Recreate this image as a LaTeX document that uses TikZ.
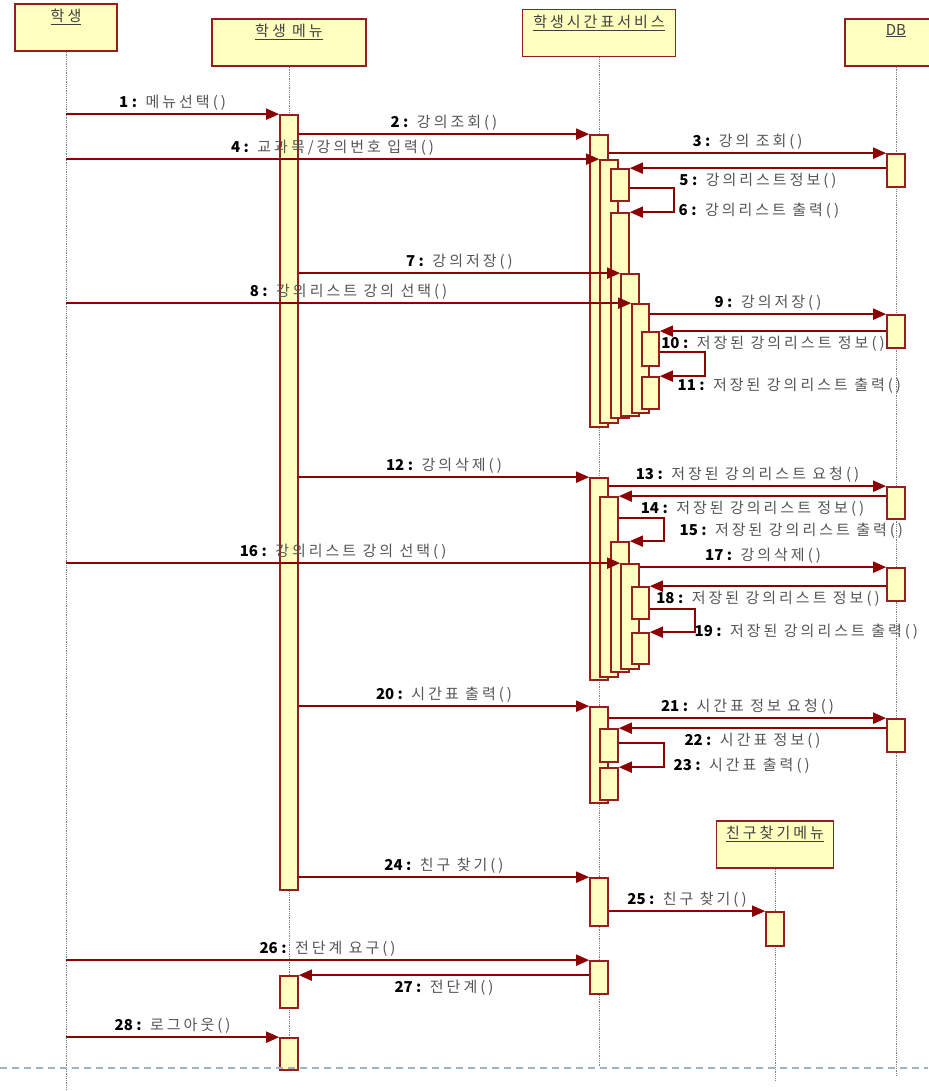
\documentclass[tikz,border=0pt]{standalone}
\usepackage{fontspec}
\setmainfont{Noto Sans CJK KR}[LetterSpace=20]
\newfontfamily\numfont{Noto Sans CJK KR}
\usetikzlibrary{arrows.meta,positioning,fit}

\definecolor{umlline}{RGB}{139,0,0}
\definecolor{umlbox}{RGB}{150,30,30}
\definecolor{umlfill}{RGB}{255,255,192}
\definecolor{txtgray}{RGB}{85,85,85}
\definecolor{pagedash}{RGB}{160,178,200}

\tikzset{
  head/.style={draw=umlbox, fill=umlfill, line width=1.8pt, minimum height=47pt},
  headtxt/.style={text=black!75, inner sep=1pt, font=\fontsize{15}{17}\selectfont},
  act/.style={draw=umlbox, fill=umlfill, line width=1.7pt, inner sep=0pt},
  life/.style={gray, densely dotted, line width=0.8pt},
  msg/.style={umlline, line width=1.8pt, -{Triangle[length=13pt,width=11pt]}},
  lbl/.style={font=\fontsize{15}{17}\selectfont, text=txtgray, inner sep=2.5pt},
  lblup/.style={lbl, above},
  lbldown/.style={lbl, below, inner sep=4pt},
  lblside/.style={lbl, anchor=west}
}
\newcommand{\msgtxt}[2]{\textcolor{black}{\numfont\bfseries #1 :} #2}

\begin{document}
\begin{tikzpicture}[x=1pt, y=-1pt]
  \useasboundingbox (0,0) rectangle (928,1091);

  % Objects
  \node[head, minimum width=102pt] (stu) at (66,27.5) {};
  \node[headtxt, below=5pt of stu.north] (stut) {\underline{학생}};
  \node[head, minimum width=154pt] (menu) at (289,42.5) {};
  \node[headtxt, below=5pt of menu.north] (menut) {\underline{학생 메뉴}};
  \node[head, minimum width=153pt] (svc) at (599,33) {};
  \node[headtxt, below=5pt of svc.north] (svct) {\underline{학생시간표서비스}};
  \node[head, minimum width=102pt] (db) at (896,42.5) {};
  \node[headtxt, below=5pt of db.north] (dbt) {\underline{\numfont DB}};
  \node[head, minimum width=117pt] (frd) at (775,844.5) {};
  \node[headtxt, below=5pt of frd.north] (frdt) {\underline{친구찾기메뉴}};

  % Lifelines
  \draw[life] (stu.south) -- (stu |- 0,1091);
  \draw[life] (menu.south) -- (menu |- 0,1070);
  \draw[life] (svc.south) -- (svc |- 0,1066);
  \draw[life] (db.south) -- (db |- 0,1075);
  \draw[life] (frd.south) -- (frd |- 0,1080);

  % Activations: 학생 메뉴
  \node[act, fit={(280,115) (298,890)}] (m1) {};
  \node[act, fit={(280,976) (298,1008)}] (m2) {};
  \node[act, fit={(280,1038) (298,1070)}] (m3) {};

  % Activations: 학생시간표서비스
  \node[act, fit={(590,135) (608,427)}] (s1a) {};
  \node[act, fit={(600,160) (618,423)}] (s1b) {};
  \node[act, fit={(611,169) (629,201)}] (s1c) {};
  \node[act, fit={(611,213) (629,418)}] (s1d) {};
  \node[act, fit={(621,274) (639,416)}] (s1e) {};
  \node[act, fit={(632,304) (649,413)}] (s1f) {};
  \node[act, fit={(642,332) (659,366)}] (s1g) {};
  \node[act, fit={(642,377) (659,409)}] (s1h) {};

  \node[act, fit={(590,478) (608,680)}] (s2a) {};
  \node[act, fit={(600,497) (618,677)}] (s2b) {};
  \node[act, fit={(611,542) (629,672)}] (s2c) {};
  \node[act, fit={(621,564) (639,669)}] (s2d) {};
  \node[act, fit={(632,587) (649,619)}] (s2e) {};
  \node[act, fit={(632,633) (649,664)}] (s2f) {};

  \node[act, fit={(590,707) (608,803)}] (s3a) {};
  \node[act, fit={(600,729) (618,762)}] (s3b) {};
  \node[act, fit={(600,768) (618,800)}] (s3c) {};

  \node[act, fit={(590,878) (608,926)}] (s4) {};
  \node[act, fit={(590,961) (608,994)}] (s5) {};

  % Activations: DB, 친구찾기메뉴
  \node[act, fit={(887,154) (905,187)}] (d1) {};
  \node[act, fit={(887,315) (905,348)}] (d2) {};
  \node[act, fit={(887,487) (905,519)}] (d3) {};
  \node[act, fit={(887,568) (905,601)}] (d4) {};
  \node[act, fit={(887,719) (905,752)}] (d5) {};
  \node[act, fit={(766,912) (784,946)}] (f1) {};

  % 강의 조회
  \draw[msg] (stu |- m1.north) -- node[lblup] {\msgtxt{1}{메뉴선택()}} (m1.north west);
  \draw[msg] (m1.east |- s1a.north) -- node[lblup] {\msgtxt{2}{강의조회()}} (s1a.north west);
  \draw[msg] (s1a.east |- d1.north) -- node[lblup] {\msgtxt{3}{강의 조회()}} (d1.north west);
  \draw[msg] (stu |- s1b.north) -- node[lblup] {\msgtxt{4}{교과목/강의번호 입력()}} (s1b.north west);
  \draw[msg] (d1.west |- s1c.north) -- node[lbldown] {\msgtxt{5}{강의리스트정보()}} (s1c.north east);
  \draw[msg] (s1c.east |- 0,188) -- ++(44,0) |- (s1d.north east);
  \node[lblside] (t6) at (676,211) {\msgtxt{6}{강의리스트 출력()}};

  % 강의 저장
  \draw[msg] (m1.east |- s1e.north) -- node[lblup] {\msgtxt{7}{강의저장()}} (s1e.north west);
  \draw[msg] (stu |- s1f.north) -- node[lblup] {\msgtxt{8}{강의리스트 강의 선택()}} (s1f.north west);
  \draw[msg] (s1f.east |- d2.north) -- node[lblup] {\msgtxt{9}{강의저장()}} (d2.north west);
  \draw[msg] (d2.west |- s1g.north) -- node[lbldown] {\msgtxt{10}{저장된 강의리스트 정보()}} (s1g.north east);
  \draw[msg] (s1g.east |- 0,352) -- ++(45,0) |- (s1h.north east);
  \node[lblside] (t11) at (675,386) {\msgtxt{11}{저장된 강의리스트 출력()}};

  % 강의 삭제
  \draw[msg] (m1.east |- s2a.north) -- node[lblup] {\msgtxt{12}{강의삭제()}} (s2a.north west);
  \draw[msg] (s2a.east |- d3.north) -- node[lblup] {\msgtxt{13}{저장된 강의리스트 요청()}} (d3.north west);
  \draw[msg] (d3.west |- s2b.north) -- node[lbldown] {\msgtxt{14}{저장된 강의리스트 정보()}} (s2b.north east);
  \draw[msg] (s2b.east |- 0,518) -- ++(45,0) |- (s2c.north east);
  \node[lblside] (t15) at (677,531) {\msgtxt{15}{저장된 강의리스트 출력()}};
  \draw[msg] (stu |- s2d.north) -- node[lblup] {\msgtxt{16}{강의리스트 강의 선택()}} (s2d.north west);
  \draw[msg] (s2d.east |- d4.north) -- node[lblup] {\msgtxt{17}{강의삭제()}} (d4.north west);
  \draw[msg] (d4.west |- s2e.north) -- node[lbldown] {\msgtxt{18}{저장된 강의리스트 정보()}} (s2e.north east);
  \draw[msg] (s2e.east |- 0,609) -- ++(45,0) |- (s2f.north east);
  \node[lblside] (t19) at (692,632) {\msgtxt{19}{저장된 강의리스트 출력()}};

  % 시간표 출력
  \draw[msg] (m1.east |- s3a.north) -- node[lblup] {\msgtxt{20}{시간표 출력()}} (s3a.north west);
  \draw[msg] (s3a.east |- d5.north) -- node[lblup] {\msgtxt{21}{시간표 정보 요청()}} (d5.north west);
  \draw[msg] (d5.west |- s3b.north) -- node[lbldown] {\msgtxt{22}{시간표 정보()}} (s3b.north east);
  \draw[msg] (s3b.east |- 0,743) -- ++(45,0) |- (s3c.north east);
  \node[lblside] (t23) at (671,766) {\msgtxt{23}{시간표 출력()}};

  % 친구 찾기, 전단계, 로그아웃
  \draw[msg] (m1.east |- s4.north) -- node[lblup] {\msgtxt{24}{친구 찾기()}} (s4.north west);
  \draw[msg] (s4.east |- f1.north) -- node[lblup] {\msgtxt{25}{친구 찾기()}} (f1.north west);
  \draw[msg] (stu |- s5.north) -- node[lblup] {\msgtxt{26}{전단계 요구()}} (s5.north west);
  \draw[msg] (s5.west |- m2.north) -- node[lbldown] {\msgtxt{27}{전단계()}} (m2.north east);
  \draw[msg] (stu |- m3.north) -- node[lblup] {\msgtxt{28}{로그아웃()}} (m3.north west);

  % page break line
  \draw[pagedash, line width=1.5pt, dash pattern=on 7pt off 5pt] (0,1068) -- (928,1068);
\end{tikzpicture}
\end{document}
